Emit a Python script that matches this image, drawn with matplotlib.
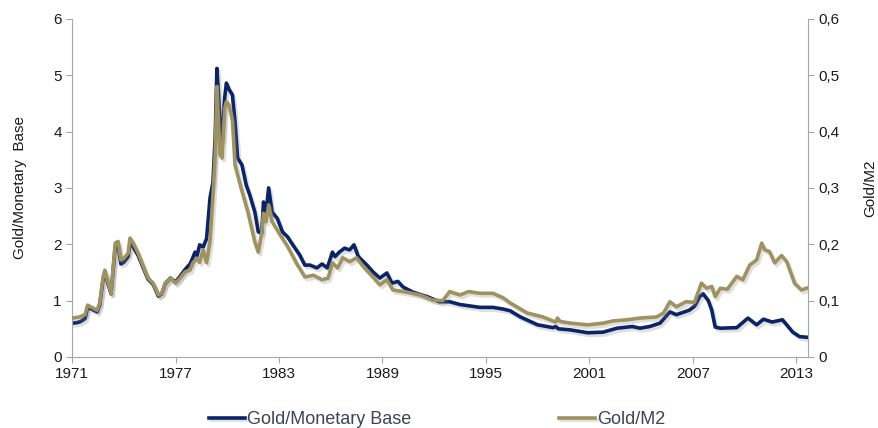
import matplotlib
matplotlib.use("Agg")
import matplotlib.pyplot as plt
import matplotlib.patheffects as pe
from matplotlib.ticker import FuncFormatter

plt.rcParams['font.family'] = ['Liberation Sans', 'DejaVu Sans']

# Gold / Monetary Base (left axis)
mb_years = [1971.0, 1971.3, 1971.5, 1971.75, 1971.9, 1972.2, 1972.45, 1972.6, 1972.8, 1972.9,
            1973.1, 1973.26, 1973.5, 1973.67, 1973.83, 1974.0, 1974.25, 1974.36, 1974.55, 1974.83,
            1975.1, 1975.4, 1975.7, 1976.0, 1976.2, 1976.4, 1976.7, 1977.0, 1977.26, 1977.55,
            1977.84, 1978.0, 1978.13, 1978.25, 1978.4, 1978.6, 1978.8, 1979.0, 1979.17, 1979.3,
            1979.4, 1979.5, 1979.58, 1979.7, 1979.85, 1979.95, 1980.1, 1980.3, 1980.45, 1980.6,
            1980.85, 1981.1, 1981.3, 1981.6, 1981.8, 1982.0, 1982.1, 1982.25, 1982.4, 1982.6,
            1982.9, 1983.2, 1983.5, 1983.8, 1984.2, 1984.5, 1984.8, 1985.2, 1985.5, 1985.8,
            1986.1, 1986.25, 1986.5, 1986.8, 1987.1, 1987.35, 1987.6, 1988.1, 1988.45, 1988.85,
            1989.26, 1989.55, 1989.9, 1990.2, 1990.77, 1991.6, 1992.3, 1992.9, 1993.5, 1994.65,
            1995.4, 1996.0, 1996.4, 1997.0, 1998.0, 1998.9, 1999.05, 1999.2, 1999.9, 2000.9,
            2001.8, 2002.6, 2003.5, 2003.93, 2004.5, 2005.1, 2005.67, 2006.05, 2006.8, 2007.1,
            2007.4, 2007.6, 2007.9, 2008.1, 2008.3, 2008.6, 2009.55, 2010.2, 2010.7, 2011.1,
            2011.6, 2012.2, 2012.8, 2013.2, 2013.6]
mb_vals = [0.60, 0.61, 0.63, 0.68, 0.88, 0.84, 0.80, 0.92, 1.38, 1.50,
           1.28, 1.12, 1.95, 1.98, 1.65, 1.68, 1.78, 2.02, 1.95, 1.80,
           1.60, 1.38, 1.29, 1.08, 1.12, 1.30, 1.40, 1.33, 1.43, 1.55,
           1.65, 1.76, 1.86, 1.80, 1.99, 1.95, 2.10, 2.82, 3.10, 3.90,
           5.12, 4.60, 4.17, 3.85, 4.60, 4.86, 4.75, 4.65, 4.17, 3.53,
           3.41, 3.05, 2.88, 2.57, 2.22, 2.20, 2.75, 2.57, 3.00, 2.57,
           2.46, 2.22, 2.13, 1.99, 1.81, 1.63, 1.63, 1.58, 1.65, 1.58,
           1.86, 1.78, 1.86, 1.93, 1.90, 1.99, 1.78, 1.63, 1.51, 1.40,
           1.49, 1.31, 1.34, 1.24, 1.15, 1.07, 0.98, 0.98, 0.93, 0.88,
           0.88, 0.85, 0.82, 0.71, 0.57, 0.52, 0.54, 0.50, 0.48, 0.43,
           0.44, 0.51, 0.54, 0.51, 0.54, 0.60, 0.80, 0.75, 0.83, 0.90,
           1.07, 1.12, 1.00, 0.83, 0.53, 0.51, 0.52, 0.69, 0.57, 0.67,
           0.62, 0.66, 0.44, 0.36, 0.35]

# Gold / M2 (right axis)
m2_years = [1971.0, 1971.45, 1971.75, 1971.9, 1972.2, 1972.45, 1972.6, 1972.8, 1972.9, 1973.1,
            1973.26, 1973.5, 1973.67, 1973.83, 1974.0, 1974.25, 1974.36, 1974.55, 1974.83, 1975.1,
            1975.4, 1975.7, 1976.0, 1976.2, 1976.4, 1976.7, 1977.0, 1977.26, 1977.55, 1977.84,
            1978.0, 1978.25, 1978.4, 1978.6, 1978.8, 1979.0, 1979.17, 1979.3, 1979.4, 1979.5,
            1979.58, 1979.7, 1979.85, 1979.95, 1980.1, 1980.3, 1980.45, 1980.8, 1981.2, 1981.6,
            1981.8, 1982.0, 1982.1, 1982.25, 1982.4, 1982.6, 1983.1, 1983.5, 1984.0, 1984.5,
            1985.0, 1985.5, 1985.85, 1986.1, 1986.4, 1986.7, 1987.1, 1987.5, 1987.9, 1988.45,
            1988.85, 1989.26, 1989.6, 1990.4, 1991.2, 1991.9, 1992.5, 1992.9, 1993.5, 1994.0,
            1994.65, 1995.4, 1996.0, 1996.4, 1997.4, 1998.3, 1999.05, 1999.15, 1999.3, 1999.9,
            2000.9, 2001.8, 2002.4, 2003.2, 2003.93, 2004.9, 2005.3, 2005.67, 2006.05, 2006.6,
            2007.1, 2007.5, 2007.8, 2008.1, 2008.3, 2008.6, 2009.0, 2009.55, 2009.9, 2010.3,
            2010.7, 2011.0, 2011.17, 2011.45, 2011.75, 2012.15, 2012.45, 2012.9, 2013.3, 2013.6]
m2_vals = [0.069, 0.071, 0.075, 0.092, 0.087, 0.083, 0.096, 0.142, 0.154, 0.131,
           0.113, 0.202, 0.205, 0.172, 0.175, 0.184, 0.211, 0.202, 0.184, 0.163,
           0.140, 0.131, 0.110, 0.113, 0.131, 0.140, 0.131, 0.140, 0.151, 0.154,
           0.167, 0.175, 0.168, 0.190, 0.167, 0.205, 0.285, 0.360, 0.480, 0.410,
           0.359, 0.353, 0.440, 0.453, 0.447, 0.420, 0.341, 0.300, 0.257, 0.204,
           0.186, 0.220, 0.255, 0.240, 0.270, 0.240, 0.215, 0.196, 0.167, 0.142,
           0.145, 0.137, 0.140, 0.167, 0.158, 0.176, 0.169, 0.176, 0.160, 0.142,
           0.128, 0.137, 0.119, 0.115, 0.110, 0.101, 0.100, 0.116, 0.110, 0.116,
           0.113, 0.113, 0.105, 0.096, 0.078, 0.071, 0.062, 0.069, 0.063, 0.060,
           0.057, 0.060, 0.064, 0.066, 0.069, 0.071, 0.078, 0.098, 0.089, 0.098,
           0.097, 0.131, 0.122, 0.125, 0.107, 0.122, 0.120, 0.143, 0.137, 0.163,
           0.172, 0.202, 0.190, 0.187, 0.167, 0.180, 0.169, 0.131, 0.119, 0.122]

x_ticks = [1971, 1977, 1983, 1989, 1995, 2001, 2007, 2013]

navy = "#0B2466"
olive = "#9E9260"
axis_grey = "#A6A6A6"
text_col = "#1A1A1A"

fig, ax = plt.subplots(figsize=(8.79, 4.28), dpi=100)
fig.subplots_adjust(left=0.082, right=0.919, top=0.956, bottom=0.166)
ax2 = ax.twinx()

shadow = [pe.SimpleLineShadow(offset=(1.5, -2), alpha=0.25, shadow_color="grey"), pe.Normal()]
l1, = ax.plot(mb_years, mb_vals, color=navy, lw=2.6, label="Gold/Monetary Base",
              path_effects=shadow, solid_joinstyle="round")
l2, = ax2.plot(m2_years, m2_vals, color=olive, lw=2.6, label="Gold/M2",
               path_effects=shadow, solid_joinstyle="round")

ax.set_xlim(1971, 2013.67)
ax.set_ylim(0, 6)
ax2.set_ylim(0, 0.6)
ax.set_xticks(x_ticks)
ax.set_yticks(range(0, 7))
ax2.set_yticks([0, 0.1, 0.2, 0.3, 0.4, 0.5, 0.6])
ax2.yaxis.set_major_formatter(FuncFormatter(lambda v, p: "0" if v == 0 else f"{v:.1f}".replace(".", ",")))

for a in (ax, ax2):
    a.spines["top"].set_visible(False)
    for s in ("left", "right", "bottom"):
        a.spines[s].set_color(axis_grey)
    a.tick_params(colors=axis_grey, labelcolor=text_col, labelsize=11, length=4, direction="out")
ax.spines["right"].set_visible(False)
ax2.spines["left"].set_visible(False)
ax2.spines["bottom"].set_visible(False)

ax.set_ylabel("Gold/Monetary  Base", fontsize=11, color=text_col)
ax.yaxis.set_label_coords(-0.061, 0.5)
ax2.set_ylabel("Gold/M2", fontsize=11, color=text_col)
ax2.yaxis.set_label_coords(1.075, 0.5)

fig.legend(handles=[l1, l2], loc="lower left", bbox_to_anchor=(209 / 879, 0.0), ncol=2,
           frameon=False, fontsize=13, handlelength=2.0, handletextpad=0.1, columnspacing=8.2,
           borderpad=0, borderaxespad=0, labelcolor="#3A4556")

fig.savefig("out.png", dpi=100)
